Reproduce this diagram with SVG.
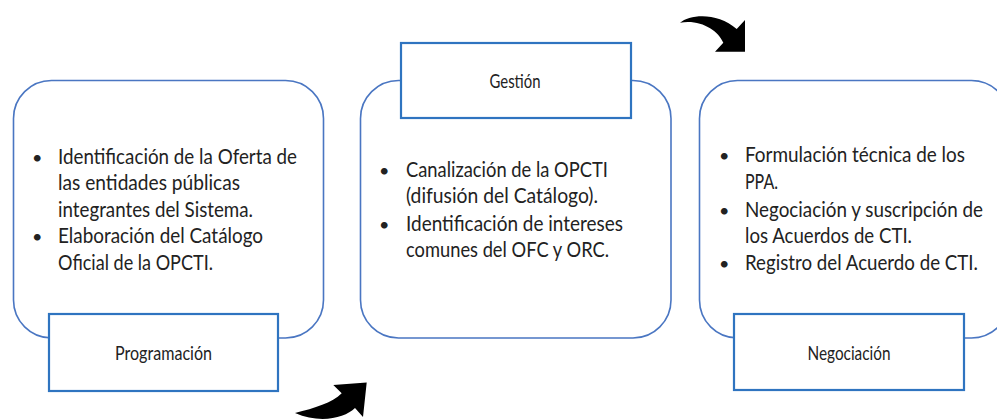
<svg xmlns="http://www.w3.org/2000/svg" width="997" height="419" viewBox="0 0 997 419">
<style>
.card{fill:#ffffff;stroke:#4a76c2;stroke-width:1.6}
.tag{fill:#ffffff;stroke:#2f74c0;stroke-width:2.2}
.t{font-family:Lato,"Liberation Sans",sans-serif;font-size:20.5px;fill:#222222}
.b{font-family:Lato,"Liberation Sans",sans-serif;font-size:18px;fill:#222222}
.l{font-family:Lato,"Liberation Sans",sans-serif;font-size:20px;fill:#222222;text-anchor:middle}
.arrow{fill:#000000;stroke:none}
</style>
<rect width="997" height="419" fill="#ffffff"/>

<g id="programacion">
<rect class="card" x="13.5" y="80.5" width="310" height="257.5" rx="38" ry="38"/>
<text class="b" x="32" y="163.5">•</text>
<text class="t" x="58" y="163.5" textLength="239" lengthAdjust="spacingAndGlyphs">Identificación de la Oferta de</text>
<text class="t" x="58" y="190" textLength="182" lengthAdjust="spacingAndGlyphs">las entidades públicas</text>
<text class="t" x="58" y="216.5" textLength="195" lengthAdjust="spacingAndGlyphs">integrantes del Sistema.</text>
<text class="b" x="32" y="243">•</text>
<text class="t" x="58" y="243" textLength="205" lengthAdjust="spacingAndGlyphs">Elaboración del Catálogo</text>
<text class="t" x="58" y="269.5" textLength="155" lengthAdjust="spacingAndGlyphs">Oficial de la OPCTI.</text>
<rect class="tag" x="49" y="314" width="229" height="77"/>
<text class="l" x="163.5" y="360" textLength="97" lengthAdjust="spacingAndGlyphs">Programación</text>
</g>

<g id="gestion">
<rect class="card" x="360.5" y="80.5" width="310.5" height="257.5" rx="38" ry="38"/>
<rect class="tag" x="401" y="43" width="230" height="75"/>
<text class="l" x="515" y="87.5" textLength="51" lengthAdjust="spacingAndGlyphs">Gestión</text>
<text class="b" x="379" y="177">•</text>
<text class="t" x="406" y="177" textLength="202" lengthAdjust="spacingAndGlyphs">Canalización de la OPCTI</text>
<text class="t" x="406" y="203" textLength="192" lengthAdjust="spacingAndGlyphs">(difusión del Catálogo).</text>
<text class="b" x="379" y="231">•</text>
<text class="t" x="406" y="231" textLength="217" lengthAdjust="spacingAndGlyphs">Identificación de intereses</text>
<text class="t" x="406" y="257" textLength="203" lengthAdjust="spacingAndGlyphs">comunes del OFC y ORC.</text>
</g>

<g id="negociacion">
<rect class="card" x="699.5" y="80.5" width="310" height="257.5" rx="38" ry="38"/>
<text class="b" x="719" y="162">•</text>
<text class="t" x="745" y="162" textLength="220" lengthAdjust="spacingAndGlyphs">Formulación técnica de los</text>
<text class="t" x="745" y="188.5" textLength="33" lengthAdjust="spacingAndGlyphs">PPA.</text>
<text class="b" x="719" y="216.5">•</text>
<text class="t" x="745" y="216.5" textLength="238" lengthAdjust="spacingAndGlyphs">Negociación y suscripción de</text>
<text class="t" x="745" y="243" textLength="167" lengthAdjust="spacingAndGlyphs">los Acuerdos de CTI.</text>
<text class="b" x="719" y="270">•</text>
<text class="t" x="745" y="270" textLength="233" lengthAdjust="spacingAndGlyphs">Registro del Acuerdo de CTI.</text>
<rect class="tag" x="734" y="314" width="230" height="76"/>
<text class="l" x="849" y="360" textLength="83" lengthAdjust="spacingAndGlyphs">Negociación</text>
</g>

<g id="connectors">
<path class="arrow" d="M680,22.7 C690,14 718,12 736.7,29 L745,20 L745,51.7 L715,51.7 L723.3,42.7 C718,30 700,19 680,22.7 Z"/>
<path class="arrow" d="M295,413 C315,408 332,403 341.7,393.3 L333.3,385 L366.7,382.5 L363,417 L355,408 C345,418 320,424 295,413 Z"/>
</g>
</svg>
